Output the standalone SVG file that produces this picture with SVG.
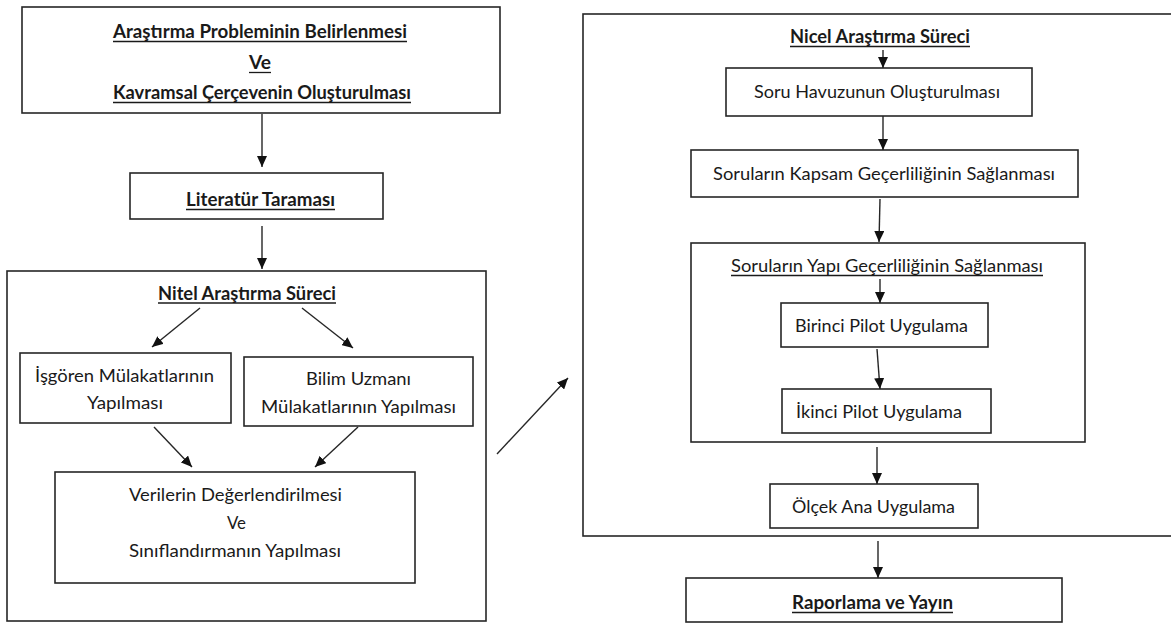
<svg xmlns="http://www.w3.org/2000/svg" width="1171" height="624" viewBox="0 0 1171 624">
<defs>
<style>
.box{fill:#fff;stroke:#262626;stroke-width:1.6}
.t{font-family:Lato,"Liberation Sans",sans-serif;font-size:18px;fill:#1a1a1a;text-anchor:middle}
.b{font-weight:bold}
.ul{stroke:#1a1a1a;stroke-width:1.3}
.c{stroke:#262626;stroke-width:1.4;fill:none;marker-end:url(#ah)}
</style>
<marker id="ah" markerUnits="userSpaceOnUse" markerWidth="12" markerHeight="10" refX="11" refY="5" orient="auto">
<path d="M0,0 L11,5 L0,10 Z" fill="#111"/>
</marker>
</defs>
<rect width="1171" height="624" fill="#fff"/>

<g id="arastirma-problemi">
<rect class="box" x="22" y="7" width="478" height="106"/>
<text class="t b" x="260" y="38" textLength="294" lengthAdjust="spacingAndGlyphs">Araştırma Probleminin Belirlenmesi</text>
<line class="ul" x1="113" y1="41.5" x2="407" y2="41.5"/>
<text class="t b" x="260" y="69" textLength="22" lengthAdjust="spacingAndGlyphs">Ve</text>
<line class="ul" x1="249" y1="72.5" x2="271" y2="72.5"/>
<text class="t b" x="262" y="99" textLength="298" lengthAdjust="spacingAndGlyphs">Kavramsal Çerçevenin Oluşturulması</text>
<line class="ul" x1="113" y1="102.5" x2="411" y2="102.5"/>
</g>

<g id="literatur">
<rect class="box" x="130" y="173" width="253" height="46"/>
<text class="t b" x="260.5" y="206" textLength="149" lengthAdjust="spacingAndGlyphs">Literatür Taraması</text>
<line class="ul" x1="186" y1="209.5" x2="335" y2="209.5"/>
</g>

<g id="nitel">
<rect class="box" x="7" y="271" width="479" height="350"/>
<text class="t b" x="247" y="300" textLength="178" lengthAdjust="spacingAndGlyphs">Nitel Araştırma Süreci</text>
<line class="ul" x1="158" y1="303" x2="336" y2="303"/>
</g>

<g id="isgoren">
<rect class="box" x="20" y="353" width="211" height="70"/>
<text class="t" x="124.5" y="382" textLength="179" lengthAdjust="spacingAndGlyphs">İşgören Mülakatlarının</text>
<text class="t" x="125" y="409" textLength="76" lengthAdjust="spacingAndGlyphs">Yapılması</text>
</g>

<g id="bilim-uzmani">
<rect class="box" x="244" y="357" width="229" height="69"/>
<text class="t" x="358.5" y="385" textLength="105" lengthAdjust="spacingAndGlyphs">Bilim Uzmanı</text>
<text class="t" x="358.5" y="413" textLength="195" lengthAdjust="spacingAndGlyphs">Mülakatlarının Yapılması</text>
</g>

<g id="verilerin">
<rect class="box" x="55" y="472" width="360" height="111"/>
<text class="t" x="235.5" y="501" textLength="213" lengthAdjust="spacingAndGlyphs">Verilerin Değerlendirilmesi</text>
<text class="t" x="236.5" y="529" textLength="19" lengthAdjust="spacingAndGlyphs">Ve</text>
<text class="t" x="235" y="557" textLength="212" lengthAdjust="spacingAndGlyphs">Sınıflandırmanın Yapılması</text>
</g>

<g id="nicel">
<rect class="box" x="583" y="14" width="600" height="522"/>
<text class="t b" x="880" y="43" textLength="180" lengthAdjust="spacingAndGlyphs">Nicel Araştırma Süreci</text>
<line class="ul" x1="790" y1="46.5" x2="970" y2="46.5"/>
</g>

<g id="soru-havuzu">
<rect class="box" x="726" y="68" width="306" height="48"/>
<text class="t" x="877" y="98" textLength="246" lengthAdjust="spacingAndGlyphs">Soru Havuzunun Oluşturulması</text>
</g>

<g id="kapsam">
<rect class="box" x="691" y="150" width="387" height="47"/>
<text class="t" x="884" y="180" textLength="342" lengthAdjust="spacingAndGlyphs">Soruların Kapsam Geçerliliğinin Sağlanması</text>
</g>

<g id="yapi">
<rect class="box" x="691" y="243" width="394" height="199"/>
<text class="t" x="887" y="272" textLength="312" lengthAdjust="spacingAndGlyphs">Soruların Yapı Geçerliliğinin Sağlanması</text>
<line class="ul" x1="731" y1="275.5" x2="1043" y2="275.5"/>
</g>

<g id="birinci-pilot">
<rect class="box" x="781" y="303" width="207" height="44"/>
<text class="t" x="881.5" y="332" textLength="173" lengthAdjust="spacingAndGlyphs">Birinci Pilot Uygulama</text>
</g>

<g id="ikinci-pilot">
<rect class="box" x="782" y="389" width="209" height="44"/>
<text class="t" x="879" y="418" textLength="166" lengthAdjust="spacingAndGlyphs">İkinci Pilot Uygulama</text>
</g>

<g id="olcek">
<rect class="box" x="770" y="484" width="208" height="44"/>
<text class="t" x="873.5" y="513" textLength="163" lengthAdjust="spacingAndGlyphs">Ölçek Ana Uygulama</text>
</g>

<g id="raporlama">
<rect class="box" x="686" y="578" width="376" height="44"/>
<text class="t b" x="872.5" y="609" textLength="161" lengthAdjust="spacingAndGlyphs">Raporlama ve Yayın</text>
<line class="ul" x1="792" y1="612.5" x2="953" y2="612.5"/>
</g>

<g id="connectors">
<line class="c" x1="262" y1="114" x2="262" y2="167"/>
<line class="c" x1="262" y1="226" x2="262" y2="269"/>
<line class="c" x1="200" y1="308" x2="152" y2="347"/>
<line class="c" x1="302" y1="308" x2="353" y2="348"/>
<line class="c" x1="154" y1="427" x2="192" y2="467"/>
<line class="c" x1="358" y1="427" x2="315" y2="467"/>
<line class="c" x1="497" y1="454" x2="568" y2="378"/>
<line class="c" x1="883" y1="50" x2="883" y2="68"/>
<line class="c" x1="883" y1="116" x2="883" y2="150"/>
<line class="c" x1="880" y1="199" x2="879" y2="242"/>
<line class="c" x1="880" y1="279" x2="880" y2="303"/>
<line class="c" x1="877" y1="349" x2="880" y2="389"/>
<line class="c" x1="877" y1="447" x2="877" y2="484"/>
<line class="c" x1="878" y1="541" x2="878" y2="578"/>
</g>
</svg>
